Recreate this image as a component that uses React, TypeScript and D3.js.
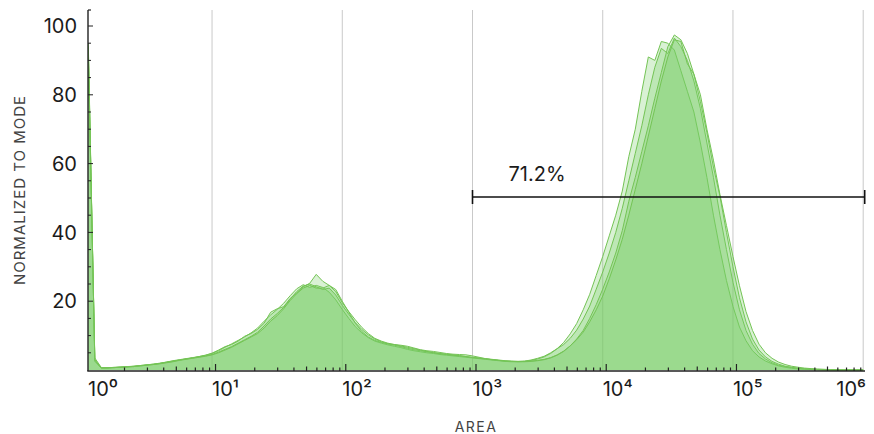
import * as d3 from "d3";
import React, { useEffect, useRef } from "react";

// bin centres as log10(AREA), one bin every 0.05 decade (0.05 .. 6.00)
const binLog10 = d3.range(1, 121).map((i) => +(i * 0.05).toFixed(2));

// normalized-to-mode counts, one value per bin
const sampleA = [
  95, 2.5, 0.5, 0.6, 0.8, 0.9, 1.0, 1.1, 1.3, 1.5,
  1.7, 2.0, 2.3, 2.7, 3.0, 3.3, 3.6, 3.9, 4.3, 4.8,
  5.6, 6.6, 7.6, 8.6, 9.6, 10.8, 12.2, 14.2, 16.0, 17.6,
  19.4, 21.6, 23.6, 24.8, 24.0, 24.6, 24.0, 22.6, 20.4, 17.6,
  15.0, 12.6, 10.8, 9.4, 8.4, 7.8, 7.3, 6.9, 6.5, 6.0,
  5.6, 5.3, 5.0, 4.8, 4.5, 4.3, 4.1, 3.9, 3.7, 3.5,
  3.3, 3.1, 2.9, 2.7, 2.5, 2.4, 2.4, 2.5, 2.8, 3.2,
  3.8, 4.8, 6.2, 8.0, 10.5, 13.5, 17.5, 22.0, 27.5, 33.0,
  39.0, 45.0, 52.0, 62.0, 70.0, 81.0, 91.0, 90.0, 95.5, 95.0,
  93.0, 87.0, 81.0, 75.0, 66.0, 56.0, 45.0, 35.0, 26.0, 18.5,
  12.5, 8.5, 5.6, 3.8, 2.6, 1.8, 1.2, 0.8, 0.5, 0.3,
  0.2, 0.1, 0.05, 0, 0, 0, 0, 0, 0, 0,
];

const sampleB = [
  92, 3.5, 0.7, 0.7, 0.7, 0.8, 0.9, 1.1, 1.3, 1.5,
  1.7, 1.9, 2.3, 2.6, 2.9, 3.2, 3.5, 3.9, 4.3, 4.9,
  5.8, 6.8, 7.4, 8.4, 9.8, 10.6, 11.8, 13.6, 16.8, 17.8,
  18.4, 20.8, 22.4, 24.2, 25.2, 27.8, 25.8, 24.6, 23.4, 20.0,
  16.8, 13.6, 11.2, 9.6, 8.6, 8.0, 7.6, 7.4, 7.2, 6.9,
  6.4, 5.9, 5.6, 5.4, 5.1, 4.8, 4.6, 4.5, 4.4, 4.1,
  3.7, 3.3, 3.0, 2.8, 2.6, 2.5, 2.5, 2.6, 2.9, 3.4,
  4.0, 5.0, 6.2, 7.4, 9.2, 11.6, 14.8, 18.6, 23.5, 28.5,
  34.0, 40.0, 47.0, 55.0, 63.0, 71.0, 80.0, 88.0, 93.5, 92.0,
  96.5, 94.0, 90.0, 84.0, 76.0, 66.0, 56.0, 45.0, 35.0, 25.5,
  17.5, 11.5, 7.5, 4.8, 3.2, 2.1, 1.4, 1.0, 0.7, 0.45,
  0.3, 0.2, 0.1, 0.05, 0, 0, 0, 0, 0, 0,
];

const sampleC = [
  93, 3, 0.6, 0.6, 0.7, 0.8, 0.9, 1.0, 1.2, 1.4,
  1.6, 1.9, 2.2, 2.5, 2.9, 3.2, 3.5, 3.8, 4.1, 4.5,
  5.2, 6.0, 6.8, 7.8, 8.8, 9.8, 11.0, 12.8, 14.8, 16.4,
  18.2, 20.6, 22.8, 24.4, 25.0, 24.2, 23.4, 23.8, 21.8, 18.8,
  16.2, 13.8, 11.8, 10.2, 9.0, 8.2, 7.6, 7.2, 6.8, 6.3,
  5.9, 5.6, 5.3, 5.0, 4.7, 4.5, 4.3, 4.1, 3.9, 3.6,
  3.4, 3.2, 3.0, 2.8, 2.6, 2.5, 2.4, 2.4, 2.5, 2.7,
  3.0, 3.5, 4.3, 5.4, 7.0, 9.0, 11.5, 15.0, 19.0, 23.5,
  28.5, 34.0, 40.5, 49.0, 56.0, 63.5, 71.0, 79.0, 86.5, 94.0,
  97.4, 96.0, 92.0, 86.0, 78.0, 69.0, 59.0, 50.5, 40.0, 30.0,
  21.0, 14.0, 9.0, 5.8, 3.8, 2.5, 1.7, 1.1, 0.8, 0.5,
  0.35, 0.25, 0.15, 0.1, 0.05, 0, 0, 0, 0, 0,
];

const sampleD = [
  94, 2.8, 0.6, 0.6, 0.7, 0.8, 0.9, 1.0, 1.2, 1.4,
  1.6, 1.8, 2.1, 2.4, 2.8, 3.1, 3.4, 3.7, 4.0, 4.4,
  5.0, 5.8, 6.6, 7.6, 8.6, 9.6, 10.6, 12.2, 14.2, 15.8,
  17.8, 20.2, 22.2, 23.8, 24.6, 23.8, 23.8, 24.6, 22.8, 19.6,
  17.0, 14.6, 12.4, 10.6, 9.2, 8.4, 7.8, 7.4, 7.0, 6.6,
  6.2, 5.8, 5.4, 5.1, 4.8, 4.6, 4.4, 4.2, 3.9, 3.7,
  3.5, 3.3, 3.1, 2.9, 2.7, 2.6, 2.5, 2.5, 2.6, 2.8,
  3.1, 3.6, 4.4, 5.5, 7.0, 8.8, 11.0, 14.0, 17.5, 21.5,
  26.5, 32.0, 38.0, 45.0, 52.5, 60.0, 68.0, 76.0, 84.0, 91.0,
  96.0, 95.5, 89.0, 86.0, 80.0, 70.0, 61.0, 51.0, 42.0, 33.0,
  24.5, 17.0, 11.5, 7.5, 5.0, 3.4, 2.3, 1.6, 1.1, 0.8,
  0.55, 0.4, 0.3, 0.2, 0.12, 0.06, 0, 0, 0, 0,
];

const samples = [sampleA, sampleB, sampleC, sampleD];

const yTickValues = [20, 40, 60, 80, 100];
const decadeValues = [1, 1e1, 1e2, 1e3, 1e4, 1e5, 1e6];
const decadeLabels = ["10⁰", "10¹", "10²", "10³", "10⁴", "10⁵", "10⁶"];
const gateRange = [1e3, 1e6];
const gateLevel = 50;
const gateLabel = "71.2%";

export default function App() {
  const svgRef = useRef(null);
  const w = 874;
  const h = 434;

  useEffect(() => {
    const font = "Inter, 'DejaVu Sans', sans-serif";
    const left = 88; // where the axes meet
    const right = 864;
    const top = 10;
    const bottom = 370;
    const tickShift = 3.5; // axis ticks sit a few px right of the grid lines

    const x = d3.scaleLog().domain([1, 1e6]).range([81.8, 863.2]);
    const y = d3.scaleLinear().domain([0, 100]).range([bottom, 26]);

    const svg = d3.select(svgRef.current);
    svg.selectAll("*").remove();

    svg.append("defs")
      .append("clipPath")
      .attr("id", "plotClip")
      .append("rect")
      .attr("x", left)
      .attr("y", 0)
      .attr("width", right - left + 2)
      .attr("height", bottom + 1);

    // vertical grid lines at each decade
    svg.append("g")
      .selectAll("line")
      .data(decadeValues.slice(1))
      .enter()
      .append("line")
      .attr("x1", (d) => x(d))
      .attr("x2", (d) => x(d))
      .attr("y1", top)
      .attr("y2", bottom)
      .attr("stroke", "#c9c9c9")
      .attr("stroke-width", 1);

    // overlaid histograms
    const area = d3.area()
      .x((d) => x(Math.pow(10, d[0])))
      .y0(y(0))
      .y1((d) => y(d[1]));
    const line = d3.line()
      .x((d) => x(Math.pow(10, d[0])))
      .y((d) => y(d[1]));

    const plot = svg.append("g").attr("clip-path", "url(#plotClip)");
    samples.forEach((s) => {
      const pts = binLog10.map((l, i) => [l, s[i]]);
      plot.append("path")
        .attr("d", area(pts))
        .attr("fill", "rgb(120,205,100)")
        .attr("fill-opacity", 0.28);
      plot.append("path")
        .attr("d", line(pts))
        .attr("fill", "none")
        .attr("stroke", "#74c455")
        .attr("stroke-width", 1);
    });

    // y axis
    const axisColor = "#222";
    svg.append("line")
      .attr("x1", left).attr("x2", left)
      .attr("y1", top).attr("y2", bottom + 1)
      .attr("stroke", axisColor).attr("stroke-width", 1.4);
    svg.append("line")
      .attr("x1", left).attr("x2", left + 3)
      .attr("y1", top).attr("y2", top)
      .attr("stroke", axisColor).attr("stroke-width", 1.2);
    svg.append("g")
      .selectAll("line")
      .data(d3.range(5, 105, 5))
      .enter()
      .append("line")
      .attr("x1", left)
      .attr("x2", (d) => left + (d % 20 === 0 ? 5 : 3))
      .attr("y1", (d) => y(d))
      .attr("y2", (d) => y(d))
      .attr("stroke", axisColor)
      .attr("stroke-width", 1);
    svg.append("g")
      .selectAll("text")
      .data(yTickValues)
      .enter()
      .append("text")
      .attr("x", 77)
      .attr("y", (d) => y(d))
      .attr("dy", "0.36em")
      .attr("text-anchor", "end")
      .attr("font-family", font)
      .attr("font-size", 20)
      .attr("fill", "#1b1b1b")
      .text((d) => d);

    // x axis
    svg.append("line")
      .attr("x1", left - 0.7).attr("x2", right + 1)
      .attr("y1", bottom + 1).attr("y2", bottom + 1)
      .attr("stroke", axisColor).attr("stroke-width", 1.4);
    const minor = [];
    decadeValues.forEach((dv) => {
      for (let m = 1; m <= 9; m++) minor.push({ v: dv * m, m });
    });
    svg.append("g")
      .selectAll("line")
      .data(minor.filter((t) => {
        const px = x(t.v) + tickShift;
        return px > left + 2 && px <= right + 1.5;
      }))
      .enter()
      .append("line")
      .attr("x1", (d) => Math.min(x(d.v) + tickShift, right))
      .attr("x2", (d) => Math.min(x(d.v) + tickShift, right))
      .attr("y1", bottom + 1)
      .attr("y2", (d) => bottom + 1 - (d.m === 1 ? 7 : d.m === 5 ? 4.5 : 3.5))
      .attr("stroke", axisColor)
      .attr("stroke-width", 1.2);
    svg.append("g")
      .selectAll("text")
      .data(decadeValues)
      .enter()
      .append("text")
      .attr("x", (d, i) => (i === decadeValues.length - 1 ? right + 2 : Math.max(x(d), left)))
      .attr("y", 396)
      .attr("text-anchor", (d, i) => (i === decadeValues.length - 1 ? "end" : "start"))
      .attr("font-family", font)
      .attr("font-size", 20)
      .attr("fill", "#1b1b1b")
      .text((d, i) => decadeLabels[i]);

    // axis titles
    svg.append("text")
      .attr("x", 476)
      .attr("y", 432)
      .attr("text-anchor", "middle")
      .attr("font-family", font)
      .attr("font-size", 14)
      .attr("letter-spacing", 1.5)
      .attr("fill", "#444")
      .text("AREA");
    svg.append("text")
      .attr("transform", "translate(25," + 190 + ") rotate(-90)")
      .attr("text-anchor", "middle")
      .attr("font-family", font)
      .attr("font-size", 15)
      .attr("letter-spacing", 1)
      .attr("fill", "#444")
      .text("NORMALIZED TO MODE");

    // gate marker
    const gx0 = x(gateRange[0]);
    const gx1 = Math.min(x(gateRange[1]) + 1.5, right + 1);
    const gy = y(gateLevel) - 1;
    const gate = svg.append("g").attr("stroke", "#111").attr("stroke-width", 1.6);
    gate.append("line").attr("x1", gx0).attr("x2", gx1).attr("y1", gy).attr("y2", gy);
    gate.append("line").attr("x1", gx0).attr("x2", gx0).attr("y1", gy - 7).attr("y2", gy + 7);
    gate.append("line").attr("x1", gx1).attr("x2", gx1).attr("y1", gy - 7).attr("y2", gy + 7);
    svg.append("text")
      .attr("x", gx0 + 36)
      .attr("y", gy - 16)
      .attr("font-family", font)
      .attr("font-size", 20)
      .attr("fill", "#1b1b1b")
      .text(gateLabel);
  });

  return (
    <svg
      ref={svgRef}
      width={w}
      height={h}
      viewBox={"0 0 " + w + " " + h}
      style={{ position: "absolute", left: 0, top: 0, background: "#fff" }}
    />
  );
}
